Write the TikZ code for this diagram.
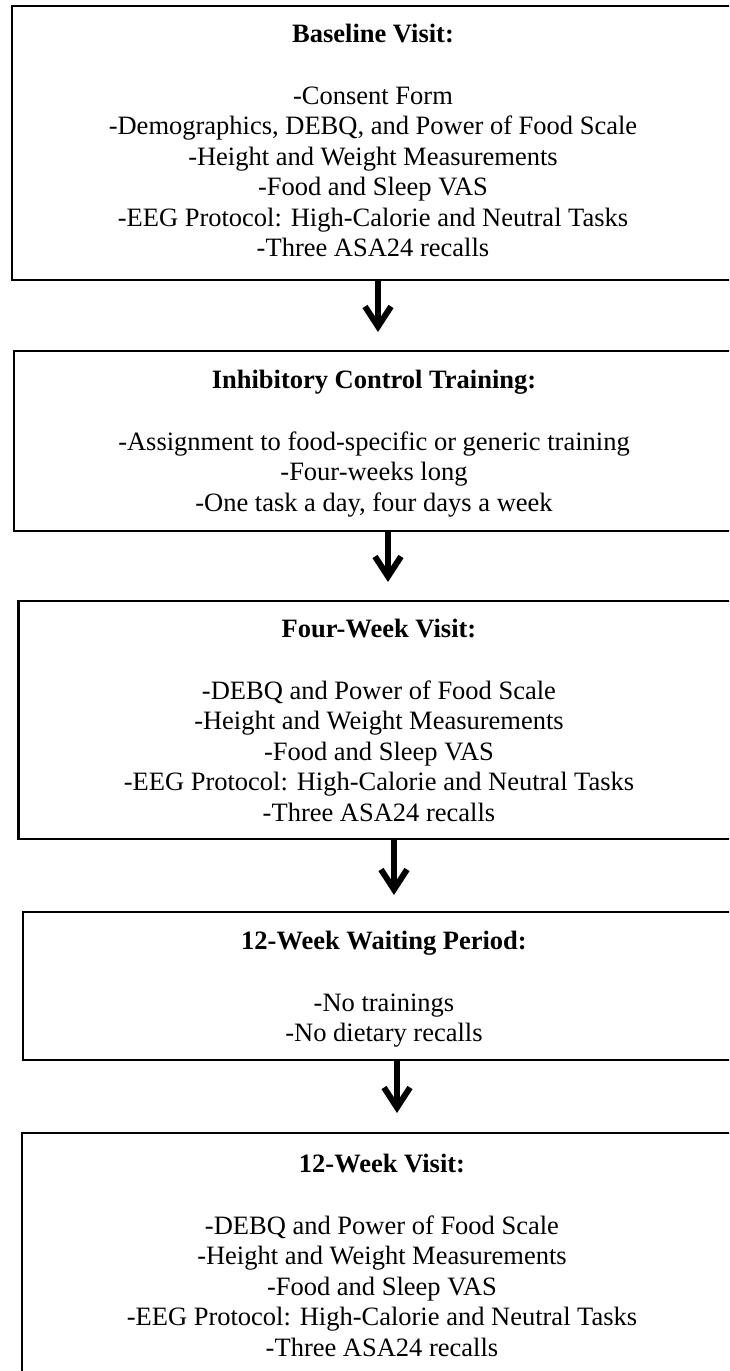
\documentclass[tikz,border=0pt]{standalone}
\usepackage{fontspec}
\setmainfont{Liberation Serif}
\usetikzlibrary{arrows.meta}
\tikzset{
  box/.style={draw=black, line width=2.8pt, rectangle, inner sep=0pt, outer sep=0pt, anchor=north west, minimum width=900pt},
  txt/.style={align=center, inner sep=0pt, anchor=north, font=\fontsize{26.5}{30.5}\selectfont},
  arr/.style={line width=6pt, -{Straight Barb[length=20pt, width=26pt]}},
}
\begin{document}
\begin{tikzpicture}[x=1pt,y=-1pt]
\useasboundingbox (0,0) rectangle (729,1371);
\clip (0,0) rectangle (729,1371);
\fill[white] (0,0) rectangle (729,1371);

\node[box, minimum height=274pt] (b1) at (12,6) {};
\node[box, minimum height=180pt] (b2) at (14,351) {};
\node[box, minimum height=238pt] (b3) at (18.6,601) {};
\node[box, minimum height=148pt] (b4) at (23,912) {};
\node[box, minimum height=400pt] (b5) at (22,1133) {};

\node[txt] (t1) at (373,23.5) {\textbf{Baseline Visit:}\\[31.5pt]
-Consent Form\\
-Demographics, DEBQ, and Power of Food Scale\\
-Height and Weight Measurements\\
-Food and Sleep VAS\\
-EEG Protocol: High-Calorie and Neutral Tasks\\
-Three ASA24 recalls};

\node[txt] (t2) at (374,369.5) {\textbf{Inhibitory Control Training:}\\[31.5pt]
-Assignment to food-specific or generic training\\
-Four-weeks long\\
-One task a day, four days a week};

\node[txt] (t3) at (379,618.5) {\textbf{Four-Week Visit:}\\[31.5pt]
-DEBQ and Power of Food Scale\\
-Height and Weight Measurements\\
-Food and Sleep VAS\\
-EEG Protocol: High-Calorie and Neutral Tasks\\
-Three ASA24 recalls};

\node[txt] (t4) at (384,930.5) {\textbf{12-Week Waiting Period:}\\[31.5pt]
-No trainings\\
-No dietary recalls};

\node[txt] (t5) at (382,1153.5) {\textbf{12-Week Visit:}\\[31.5pt]
-DEBQ and Power of Food Scale\\
-Height and Weight Measurements\\
-Food and Sleep VAS\\
-EEG Protocol: High-Calorie and Neutral Tasks\\
-Three ASA24 recalls};

\coordinate (c1) at (378,0);
\coordinate (c2) at (388,0);
\coordinate (c3) at (394,0);
\coordinate (c4) at (397,0);

\draw[arr, shorten >=19pt] (b1.south -| c1) -- (b2.north -| c1);
\draw[arr, shorten >=19pt] (b2.south -| c2) -- (b3.north -| c2);
\draw[arr, shorten >=17pt] (b3.south -| c3) -- (b4.north -| c3);
\draw[arr, shorten >=20pt] (b4.south -| c4) -- (b5.north -| c4);
\end{tikzpicture}
\end{document}
